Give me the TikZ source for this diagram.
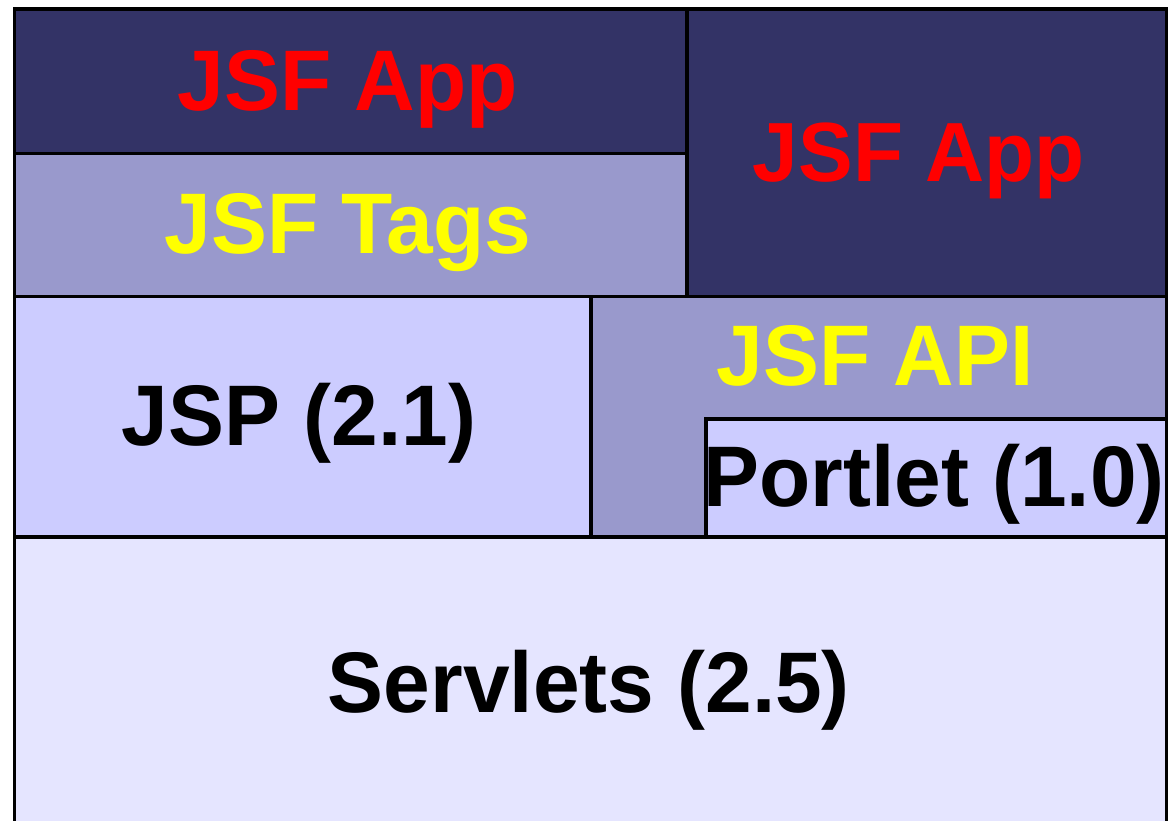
\documentclass[tikz,border=0pt]{standalone}
\usepackage{fontspec}
\setmainfont{Liberation Sans}
\newfontfamily\layerfont[FakeStretch=0.975]{Liberation Sans}
\definecolor{navy}{HTML}{333366}
\definecolor{midblue}{HTML}{9999CC}
\definecolor{lightblue}{HTML}{CCCCFF}
\definecolor{paleblue}{HTML}{E5E5FF}
\definecolor{jsfred}{HTML}{FF0000}
\definecolor{jsfyellow}{HTML}{FFFF00}
\begin{document}
\begin{tikzpicture}[x=1pt,y=-1pt,
  block/.style={draw=black, line width=3.5pt, inner sep=0pt, anchor=north west},
  lbl/.style={font=\layerfont\bfseries\fontsize{86}{100}\selectfont, anchor=base, inner sep=0pt}]
\useasboundingbox (0,0) rectangle (1168,820);
\clip (0,0) rectangle (1168,820);

% layer stack, bottom to top
\node[block, fill=paleblue, minimum width=1152pt, minimum height=305pt] (servlets) at (12.5,535) {};
\node[block, fill=lightblue, minimum width=576.5pt, minimum height=240.5pt] (jsp) at (12.5,294.5) {};
\node[block, fill=midblue, minimum width=575.5pt, minimum height=240.5pt] (api) at (589,294.5) {};
\node[block, fill=lightblue, minimum width=460.5pt, minimum height=118pt] (portlet) at (704,417) {};
\node[block, fill=midblue, minimum width=672.5pt, minimum height=143pt] (tags) at (12.5,151.5) {};
\node[block, fill=navy, minimum width=672.5pt, minimum height=144.5pt] (appL) at (12.5,7) {};
\node[block, fill=navy, minimum width=479.5pt, minimum height=287.5pt] (appR) at (685,7) {};

% labels
\node[lbl, text=jsfred] (tAppL) at (348,110) {JSF App};
\node[lbl, text=jsfyellow] (tTags) at (348,253) {JSF Tags};
\node[lbl, text=jsfred, font=\layerfont\bfseries\fontsize{84}{100}\selectfont] (tAppR) at (919,181) {JSF App};
\node[lbl] (tJsp) at (299,445) {JSP (2.1)};
\node[lbl, text=jsfyellow] (tApi) at (875,385) {JSF API};
\node[lbl] (tPortlet) at (934,506) {Portlet (1.0)};
\node[lbl] (tServlets) at (589,712) {Servlets (2.5)};
\end{tikzpicture}
\end{document}
